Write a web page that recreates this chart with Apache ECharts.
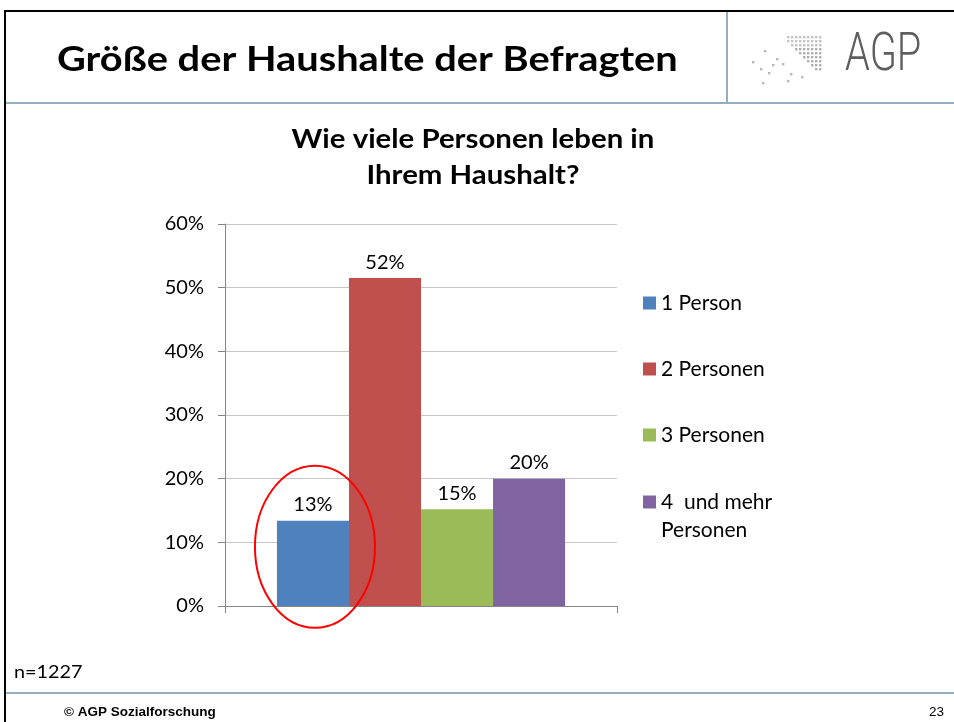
<!DOCTYPE html>
<html>
<head>
<meta charset="utf-8">
<title>Größe der Haushalte der Befragten</title>
<script src="https://cdn.jsdelivr.net/npm/echarts@6/dist/echarts.min.js"></script>
<style>
  html, body { margin: 0; padding: 0; background: #fff; }
  #chart { width: 954px; height: 722px; }
</style>
</head>
<body>
<div id="chart"></div>
<script>
'use strict';

// Werte aus der Folie (Anteile in %)
const categories = ['1 Person', '2 Personen', '3 Personen', '4  und mehr Personen'];
const shares = [13.4, 51.5, 15.2, 20.0];
const colors = ['#4F81BD', '#C0504D', '#9BBB59', '#8064A2'];
const yTicks = [0, 10, 20, 30, 40, 50, 60];

const pageTitle = 'Größe der Haushalte der Befragten';
const chartTitle = ['Wie viele Personen leben in', 'Ihrem Haushalt?'];
const sampleNote = 'n=1227';
const footerText = '© AGP Sozialforschung';
const pageNumber = '23';

const calibri = 'Lato, "Open Sans", sans-serif';
const frameBlue = '#95AEC0';

const container = document.getElementById('chart');
const myChart = echarts.init(container);

const series = categories.map((name, i) => {
    return {
        name: name,
        type: 'bar',
        barGap: 0,
        barCategoryGap: '26.5%',
        itemStyle: { color: colors[i] },
        label: {
            show: true,
            position: 'top',
            distance: 6,
            fontFamily: calibri,
            fontSize: 20,
            color: '#000',
            formatter: p => Math.round(p.value) + '%'
        },
        data: [shares[i]]
    }
})

// Logo-Punkte (nur Dekoration)
const logoDots = []
for (let r = 0; r < 9; r++) {
    for (let c = 0; c < 9; c++) {
        if (c >= r - 1 || r < 2) {
            logoDots.push({
                type: 'rect',
                shape: { x: 787 + c * 4, y: 36 + r * 4, width: 2.4, height: 2.4 },
                style: { fill: r < 3 ? '#c4c4c4' : '#b0b0b0' },
                silent: true
            })
        }
    }
}
const looseDots = [[752, 61], [764, 50], [776, 58], [782, 63], [768, 72], [760, 68], [790, 73], [801, 76], [762, 82], [787, 80], [772, 64]]
looseDots.forEach(d => {
    logoDots.push({
        type: 'rect',
        shape: { x: d[0], y: d[1], width: 2.4, height: 2.4 },
        style: { fill: '#b8b8b8' },
        silent: true
    })
})

const frame = [
    { type: 'line', shape: { x1: 4, y1: 11, x2: 954, y2: 11 }, style: { stroke: '#000', lineWidth: 2 } },
    { type: 'line', shape: { x1: 5, y1: 11, x2: 5, y2: 722 }, style: { stroke: '#000', lineWidth: 2 } },
    { type: 'line', shape: { x1: 6, y1: 103, x2: 954, y2: 103 }, style: { stroke: frameBlue, lineWidth: 2 } },
    { type: 'line', shape: { x1: 727, y1: 12, x2: 727, y2: 102 }, style: { stroke: frameBlue, lineWidth: 2 } },
    { type: 'line', shape: { x1: 6, y1: 693, x2: 954, y2: 693 }, style: { stroke: frameBlue, lineWidth: 2 } },
    {
        type: 'text', x: 57, y: 60, scaleX: 1.17,
        style: { text: pageTitle, font: 'bold 34px ' + calibri, fill: '#000', textVerticalAlign: 'middle' }
    },
    {
        type: 'text', x: 845, y: 57, scaleX: 0.75,
        style: { text: 'AGP', font: '300 53px Roboto, sans-serif', fill: '#5e5e5e', textVerticalAlign: 'middle' }
    },
    {
        type: 'text', x: 473, y: 140, scaleX: 1.13,
        style: { text: chartTitle[0], font: 'bold 26px ' + calibri, fill: '#000', textAlign: 'center', textVerticalAlign: 'middle' }
    },
    {
        type: 'text', x: 473, y: 176, scaleX: 1.13,
        style: { text: chartTitle[1], font: 'bold 26px ' + calibri, fill: '#000', textAlign: 'center', textVerticalAlign: 'middle' }
    },
    {
        type: 'text', x: 14, y: 672, scaleX: 1.1,
        style: { text: sampleNote, font: '18px ' + calibri, fill: '#000', textVerticalAlign: 'middle' }
    },
    {
        type: 'text', x: 64, y: 712,
        style: { text: footerText, font: 'bold 13.5px "Liberation Sans", Arial, sans-serif', fill: '#000', textVerticalAlign: 'middle' }
    },
    {
        type: 'text', x: 944, y: 712,
        style: { text: pageNumber, font: '13.5px "Liberation Sans", Arial, sans-serif', fill: '#000', textAlign: 'right', textVerticalAlign: 'middle' }
    }
].concat(logoDots)

const legendText = { fontFamily: calibri, fontSize: 21, color: '#000', lineHeight: 28 }

const option = {
    animation: false,
    backgroundColor: '#fff',
    textStyle: { fontFamily: calibri },
    grid: {
        left: 225,
        right: 337,
        top: 224,
        bottom: 116
    },
    legend: [{
        data: categories.slice(0, 3),
        orient: 'vertical',
        left: 638,
        top: 284,
        itemWidth: 13,
        itemHeight: 13,
        itemGap: 38,
        icon: 'rect',
        selectedMode: false,
        textStyle: legendText
    }, {
        data: categories.slice(3),
        orient: 'vertical',
        left: 638,
        top: 455,
        itemWidth: 13,
        itemHeight: 13,
        icon: 'rect',
        selectedMode: false,
        // leere erste Zeile, damit das Kästchen auf Höhe der ersten Textzeile sitzt
        formatter: name => ' \n' + name.replace(' Personen', '\nPersonen'),
        textStyle: legendText
    }],
    xAxis: [{
        type: 'category',
        data: [''],
        axisLine: { lineStyle: { color: '#868686', width: 1 } },
        axisTick: { show: true, length: 7, interval: 0, lineStyle: { color: '#868686' } },
        axisLabel: { show: false }
    }],
    yAxis: [{
        type: 'value',
        min: yTicks[0],
        max: yTicks[yTicks.length - 1],
        interval: 10,
        axisLine: { show: true, lineStyle: { color: '#868686', width: 1 } },
        axisTick: { show: true, length: 7, lineStyle: { color: '#868686' } },
        axisLabel: {
            margin: 21,
            fontFamily: calibri,
            fontSize: 20,
            color: '#000',
            formatter: '{value}%'
        },
        splitLine: { show: true, lineStyle: { color: '#C6C6C6', width: 1 } }
    }],
    graphic: frame,
    series: series
};

myChart.setOption(option);

// roter Kreis um den Balken "1 Person"
const barLayout = myChart.getModel().getSeriesByIndex(0).getData().getItemLayout(0)
const cy = myChart.convertToPixel({ xAxisIndex: 0, yAxisIndex: 0 }, [0, 9.3])[1]
myChart.setOption({
    graphic: frame.concat([{
        type: 'ellipse',
        shape: { cx: barLayout.x + barLayout.width / 2 + 2, cy: cy, rx: 60, ry: 81 },
        style: { fill: 'none', stroke: '#FF0000', lineWidth: 2 },
        silent: true,
        z: 100
    }])
});
</script>
</body>
</html>
